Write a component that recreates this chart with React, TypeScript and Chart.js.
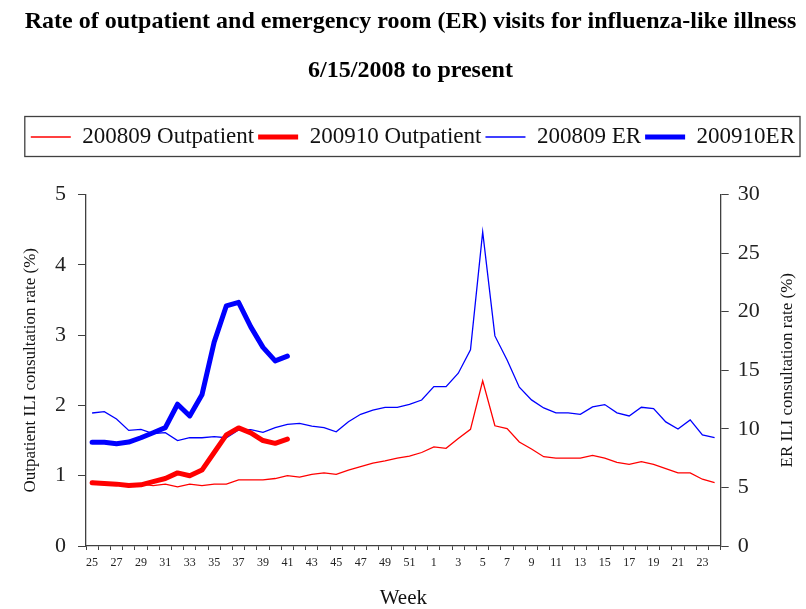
import Chart from 'chart.js/auto';
import { useEffect, useRef } from 'react';

const weeks = [
  '25', '26', '27', '28', '29', '30', '31', '32', '33', '34', '35', '36', '37', '38',
  '39', '40', '41', '42', '43', '44', '45', '46', '47', '48', '49', '50', '51', '52',
  '1', '2', '3', '4', '5', '6', '7', '8', '9', '10', '11', '12',
  '13', '14', '15', '16', '17', '18', '19', '20', '21', '22', '23', '24',
];

// 2008-09 season, outpatient (left axis, %)
const outpatient0809 = [
  0.92, 0.9, 0.89, 0.86, 0.88, 0.86, 0.88, 0.84, 0.88, 0.86, 0.88, 0.88, 0.94, 0.94,
  0.94, 0.96, 1.0, 0.98, 1.02, 1.04, 1.02, 1.08, 1.13, 1.18, 1.21, 1.25, 1.28, 1.33,
  1.41, 1.39, 1.53, 1.66, 2.35, 1.71, 1.67, 1.48, 1.38, 1.27, 1.25, 1.25,
  1.25, 1.29, 1.25, 1.19, 1.16, 1.2, 1.16, 1.1, 1.04, 1.04, 0.95, 0.9,
];

// 2009-10 season so far, outpatient (left axis, %)
const outpatient0910 = [
  0.9, 0.89, 0.88, 0.86, 0.87, 0.915, 0.96, 1.04, 1.0, 1.08, 1.33, 1.58, 1.68, 1.61,
  1.5, 1.46, 1.52,
];

// 2008-09 season, ER (right axis, %)
const er0809 = [
  11.35, 11.46, 10.84, 9.87, 9.95, 9.6, 9.67, 8.99, 9.24, 9.24, 9.33, 9.24, 9.9, 9.93,
  9.7, 10.1, 10.38, 10.47, 10.24, 10.1, 9.75, 10.6, 11.24, 11.6, 11.83, 11.83, 12.09, 12.46,
  13.6, 13.6, 14.75, 16.74, 26.8, 17.93, 15.88, 13.55, 12.47, 11.78, 11.36, 11.36,
  11.24, 11.87, 12.07, 11.36, 11.1, 11.84, 11.73, 10.59, 9.99, 10.76, 9.48, 9.25,
];

// 2009-10 season so far, ER (right axis, %)
const er0910 = [
  8.85, 8.85, 8.73, 8.87, 9.24, 9.67, 10.1, 12.1, 11.1, 12.9, 17.4, 20.5, 20.8, 18.7,
  16.95, 15.8, 16.2,
];

const titleLines = [
  'Rate of outpatient and emergency room (ER) visits for influenza-like illness',
  '6/15/2008 to present',
];

const SERIF = "'Liberation Serif', 'Times New Roman', serif";
const AXIS = '#404040';

function pad(values: number[]) {
  return weeks.map((_, i) => (i < values.length ? values[i] : null));
}

export default function App() {
  const canvasRef = useRef<HTMLCanvasElement>(null);

  useEffect(() => {
    document.body.style.margin = '0';
    if (!canvasRef.current) return;

    const legendTweaks = {
      id: 'legendTweaks',
      beforeInit(chart: any) {
        const fit = chart.legend.fit;
        chart.legend.fit = function () {
          fit.bind(chart.legend)();
          this.height = 73;
        };
      },
      afterDraw(chart: any) {
        const { ctx, legend, chartArea } = chart;
        const boxes = legend.legendHitBoxes;
        if (boxes && boxes.length) {
          const first = boxes[0];
          const last = boxes[boxes.length - 1];
          const x0 = first.left - 6;
          const x1 = last.left + last.width + 5;
          ctx.save();
          ctx.strokeStyle = AXIS;
          ctx.lineWidth = 1.3;
          ctx.strokeRect(x0, legend.top - 5, x1 - x0, 40);
          ctx.restore();
        }
        // right axis title reads bottom-to-top
        ctx.save();
        ctx.translate(788, (chartArea.top + chartArea.bottom) / 2);
        ctx.rotate(-Math.PI / 2);
        ctx.font = `17px ${SERIF}`;
        ctx.fillStyle = '#111';
        ctx.textAlign = 'center';
        ctx.textBaseline = 'middle';
        ctx.fillText('ER ILI consultation rate (%)', 0, 0);
        ctx.restore();
      },
    };

    const chart = new Chart(canvasRef.current, {
      type: 'line',
      data: {
        labels: weeks,
        datasets: [
          {
            label: '200809 Outpatient',
            data: outpatient0809,
            borderColor: '#ff0000',
            backgroundColor: '#ff0000',
            borderWidth: 1.3,
            pointRadius: 0,
            yAxisID: 'y',
          },
          {
            label: '200910 Outpatient',
            data: pad(outpatient0910),
            borderColor: '#ff0000',
            backgroundColor: '#ff0000',
            borderWidth: 5,
            borderCapStyle: 'round',
            borderJoinStyle: 'round',
            pointRadius: 0,
            yAxisID: 'y',
          },
          {
            label: '200809 ER',
            data: er0809,
            borderColor: '#0000ff',
            backgroundColor: '#0000ff',
            borderWidth: 1.3,
            pointRadius: 0,
            yAxisID: 'y1',
          },
          {
            label: '200910ER',
            data: pad(er0910),
            borderColor: '#0000ff',
            backgroundColor: '#0000ff',
            borderWidth: 5,
            borderCapStyle: 'round',
            borderJoinStyle: 'round',
            pointRadius: 0,
            yAxisID: 'y1',
          },
        ],
      },
      options: {
        animation: false,
        maintainAspectRatio: false,
        responsive: true,
        layout: { padding: { top: -2.5, left: 22, right: 7, bottom: 0 } },
        plugins: {
          tooltip: { enabled: false },
          title: {
            display: true,
            text: titleLines,
            color: '#000',
            font: { family: SERIF, size: 24, weight: 'bold', lineHeight: 49 / 24 },
            padding: { top: 0, bottom: 26 },
          },
          legend: {
            display: true,
            align: 'end',
            labels: {
              color: '#111',
              font: { family: SERIF, size: 23 },
              usePointStyle: true,
              pointStyle: 'line',
              pointStyleWidth: 40,
              padding: 4,
            },
          },
        },
        scales: {
          x: {
            offset: true,
            grid: {
              display: true,
              drawOnChartArea: false,
              drawTicks: true,
              tickLength: 4,
              color: AXIS,
              offset: true,
            },
            border: { display: true, color: AXIS, width: 1.3 },
            ticks: {
              autoSkip: false,
              maxRotation: 0,
              padding: 6,
              color: '#222',
              font: { family: SERIF, size: 12 },
              callback: (_v: any, i: number) => (i % 2 === 0 ? weeks[i] : ''),
            },
            title: {
              display: true,
              text: 'Week',
              color: '#111',
              font: { family: SERIF, size: 21, lineHeight: 1 },
              padding: { top: 0, bottom: 0 },
            },
            afterFit: (scale: any) => {
              scale.height = 63;
            },
          },
          y: {
            position: 'left',
            min: 0,
            max: 5,
            ticks: {
              stepSize: 1,
              padding: 12,
              color: '#222',
              font: { family: SERIF, size: 22 },
            },
            grid: {
              display: true,
              drawOnChartArea: false,
              drawTicks: true,
              tickLength: 8,
              color: AXIS,
            },
            border: { display: true, color: AXIS, width: 1.3 },
            title: {
              display: true,
              text: 'Outpatient ILI consultation rate (%)',
              color: '#111',
              font: { family: SERIF, size: 17, lineHeight: 1 },
              padding: { top: 0.5, bottom: 0 },
            },
            afterFit: (scale: any) => {
              scale.width = 64;
            },
          },
          y1: {
            position: 'right',
            min: 0,
            max: 30,
            ticks: {
              stepSize: 5,
              padding: 9,
              color: '#222',
              font: { family: SERIF, size: 22 },
            },
            grid: {
              display: true,
              drawOnChartArea: false,
              drawTicks: true,
              tickLength: 8,
              color: AXIS,
            },
            border: { display: true, color: AXIS, width: 1.3 },
            afterFit: (scale: any) => {
              scale.width = 78.3;
            },
          },
        },
      },
      plugins: [legendTweaks],
    } as any);

    return () => chart.destroy();
  }, []);

  return (
    <div style={{ width: 806, height: 609, position: 'relative', background: '#fff' }}>
      <canvas ref={canvasRef}></canvas>
    </div>
  );
}
